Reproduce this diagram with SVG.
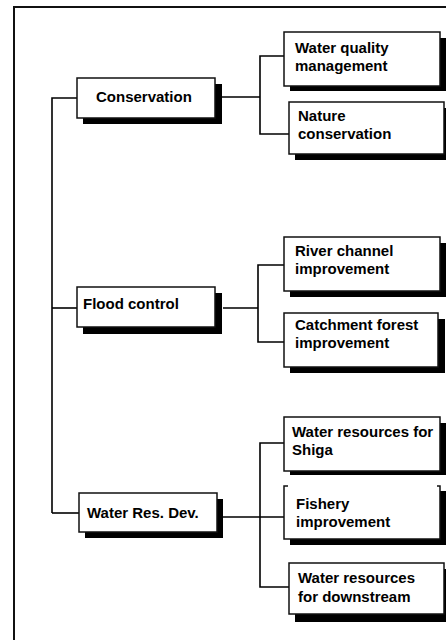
<svg xmlns="http://www.w3.org/2000/svg" width="446" height="640" viewBox="0 0 446 640">
<style>
.sh{fill:#000}
.bx{fill:#fff;stroke:#111;stroke-width:1.5}
.t{font-family:"Liberation Sans",Arial,sans-serif;font-weight:bold;font-size:15px;fill:#000}
.c{fill:none;stroke:#000;stroke-width:1.6}
</style>
<rect width="446" height="640" fill="#fff"/>
<path d="M14,641 V7 H447" fill="none" stroke="#111" stroke-width="2"/>
<g id="connectors">
<path class="c" d="M52,513 V98 H77"/>
<path class="c" d="M52,308 H77"/>
<path class="c" d="M52,513 H79"/>
<path class="c" d="M222,97 H260 M284,56 H260 V134 H289"/>
<path class="c" d="M223,308 H258 M284,265 H258 V342 H284"/>
<path class="c" d="M223,517 H286 M284,443 H260 V587 H289"/>
</g>
<g id="conservation">
<rect class="sh" x="83" y="84" width="139" height="40"/>
<rect class="bx" x="77" y="78" width="138" height="40"/>
<text class="t" x="96" y="102">Conservation</text>
</g>
<g id="flood-control">
<rect class="sh" x="83" y="293" width="139" height="41"/>
<rect class="bx" x="77" y="287" width="138" height="40"/>
<text class="t" x="83" y="309">Flood control</text>
</g>
<g id="water-res-dev">
<rect class="sh" x="85" y="499" width="138" height="39"/>
<rect class="bx" x="79" y="493" width="138" height="39"/>
<text class="t" x="87" y="518">Water Res. Dev.</text>
</g>
<g id="water-quality">
<rect class="sh" x="290" y="38" width="160" height="53"/>
<rect class="bx" x="284" y="32" width="156" height="54"/>
<text class="t" x="295" y="53">Water quality</text>
<text class="t" x="295" y="71">management</text>
</g>
<g id="nature">
<rect class="sh" x="295" y="108" width="155" height="52"/>
<rect class="bx" x="289" y="102" width="155" height="52"/>
<text class="t" x="298" y="121">Nature</text>
<text class="t" x="298" y="139">conservation</text>
</g>
<g id="river-channel">
<rect class="sh" x="290" y="243" width="160" height="54"/>
<rect class="bx" x="284" y="237" width="156" height="54"/>
<text class="t" x="295" y="256">River channel</text>
<text class="t" x="295" y="274">improvement</text>
</g>
<g id="catchment">
<rect class="sh" x="290" y="319" width="155" height="54"/>
<rect class="bx" x="284" y="313" width="154" height="54"/>
<text class="t" x="295" y="330">Catchment forest</text>
<text class="t" x="295" y="348">improvement</text>
</g>
<g id="shiga">
<rect class="sh" x="290" y="423" width="160" height="52"/>
<rect class="bx" x="284" y="417" width="156" height="54"/>
<text class="t" x="292" y="437">Water resources for</text>
<text class="t" x="292" y="455">Shiga</text>
</g>
<g id="fishery">
<rect class="sh" x="290" y="491" width="160" height="54"/>
<rect x="284" y="486" width="156" height="53" fill="#fff"/>
<path d="M288,486 H284 V539 H440 V486 H437" fill="none" stroke="#111" stroke-width="1.5"/>
<text class="t" x="296" y="509">Fishery</text>
<text class="t" x="296" y="527">improvement</text>
</g>
<g id="downstream">
<rect class="sh" x="295" y="569" width="155" height="53"/>
<rect class="bx" x="289" y="563" width="155" height="51"/>
<text class="t" x="298" y="583">Water resources</text>
<text class="t" x="298" y="602">for downstream</text>
</g>
</svg>
